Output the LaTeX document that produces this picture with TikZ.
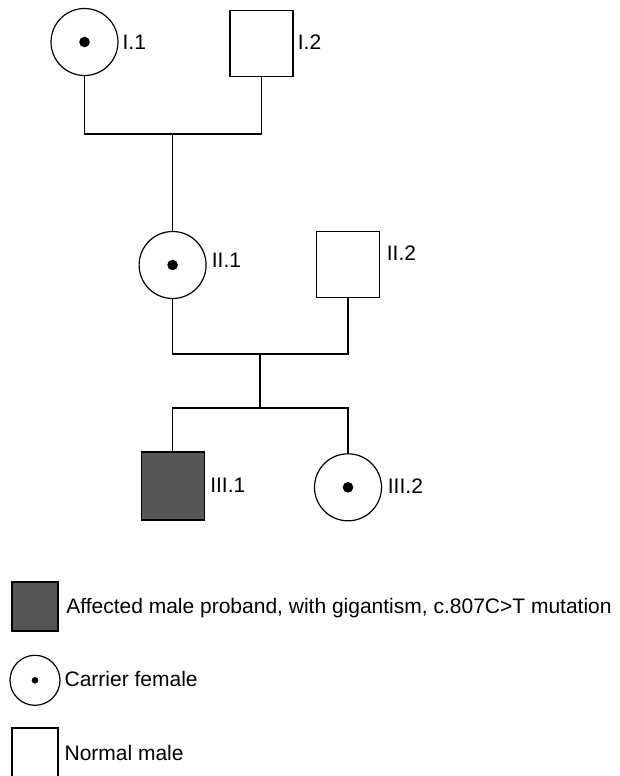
\documentclass[tikz,border=0pt]{standalone}
\usepackage{fontspec}
\setmainfont{Liberation Sans}
\definecolor{affgray}{RGB}{85,86,88}
\begin{document}
\begin{tikzpicture}[x=1pt,y=-1pt,line width=1.2pt,
  male/.style={draw, rectangle, minimum width=63pt, minimum height=66pt, inner sep=0pt},
  female/.style={draw, circle, minimum size=67pt, inner sep=0pt},
  carrier/.style={female, path picture={\fill (path picture bounding box.center) circle (#1);}},
  carrier/.default=5.3pt,
  affected/.style={male, fill=affgray},
  lbl/.style={anchor=base west, inner sep=0pt, font=\fontsize{21pt}{25pt}\selectfont}]
\useasboundingbox (0,0) rectangle (620,776);
% generation I
\node[carrier] (I1) at (84.5,42) {};
\node[lbl] (I1l) at (122,49.3) {I.1};
\node[male] (I2) at (261.5,43.5) {};
\node[lbl] (I2l) at (297.3,49.3) {I.2};
\coordinate (m1) at (172.6,134);
\draw (I1.south) |- (m1) -| (I2.south);
% generation II
\node[carrier] (II1) at (172.6,265) {};
\draw (m1) -- (II1.north);
\node[lbl] (II1l) at (211.3,267.3) {II.1};
\node[male] (II2) at (348,264.7) {};
\node[lbl] (II2l) at (386.3,260) {II.2};
\coordinate (m2) at (260,354);
\draw (II1.south) |- (m2) -| (II2.south);
\coordinate (s2) at (260,408);
\draw (m2) -- (s2);
% generation III
\node[affected, minimum height=68pt] (III1) at (172.7,486) {};
\node[lbl] (III1l) at (209.7,492.7) {III.1};
\node[carrier] (III2) at (348,487.3) {};
\node[lbl] (III2l) at (387.3,493) {III.2};
\draw (III1.north) |- (s2) -| (III2.north);
% legend
\node[affected, minimum width=46pt, minimum height=49pt] (L1) at (35,606.5) {};
\node[lbl] (L1t) at (65.7,613.3) {Affected male proband, with gigantism, c.807C>T mutation};
\node[carrier=3.3pt, minimum size=50pt] (L2) at (35,680.3) {};
\node[lbl] (L2t) at (64,686.7) {Carrier female};
\node[male, minimum width=46pt, minimum height=50pt] (L3) at (35,753) {};
\node[lbl] (L3t) at (64,760) {Normal male};
\end{tikzpicture}
\end{document}
